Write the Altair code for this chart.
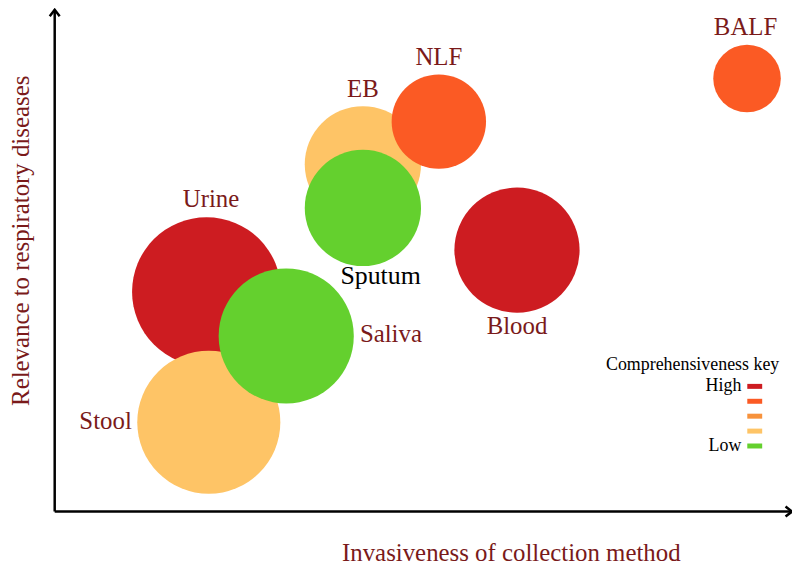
import altair as alt
import pandas as pd

# ---- data ----
names = ["Urine", "Stool", "Saliva", "EB", "Sputum", "NLF", "Blood", "BALF"]
invasiveness = [2.06, 2.09, 3.14, 4.18, 4.18, 5.21, 6.27, 9.39]
relevance = [4.38, 1.78, 3.50, 6.92, 6.05, 7.77, 5.21, 8.63]
bubble_size = [7.5, 7.2, 6.8, 5.85, 5.85, 4.75, 6.3, 3.4]
comprehensiveness = [5, 2, 1, 2, 1, 4, 5, 4]
label_x = [2.12, 0.69, 4.56, 4.18, 4.42, 5.21, 6.27, 9.37]
label_y = [6.22, 1.80, 3.54, 8.43, 4.69, 9.06, 3.69, 9.66]

key_levels = [5, 4, 3, 2, 1]
key_colors = ["#CD1C21", "#FB5A24", "#F7923C", "#FEC466", "#64D02E"]
key_labels = ["High", "", "", "", "Low"]
key_rank = [0, 1, 2, 3, 4]

x_title = "Invasiveness of collection method"
y_title = "Relevance to respiratory diseases"
key_title = "Comprehensiveness key"

SERIF = "Liberation Serif"
DARK_RED = "#7A1A1A"

bubbles_df = pd.DataFrame({
    "name": names, "invasiveness": invasiveness, "relevance": relevance,
    "bubble": bubble_size, "level": comprehensiveness,
    "label_x": label_x, "label_y": label_y, "idx": list(range(len(names))),
})
key_df = pd.DataFrame({"level": key_levels, "label": key_labels, "rank": key_rank})
axes_df = pd.DataFrame({"x": [0, 0], "y": [0, 0], "x2": [0, 10], "y2": [10, 0]})
arrows_df = pd.DataFrame({"x": [0, 10], "y": [10, 0], "dir": ["up", "right"]})

xs = alt.Scale(domain=[0, 10], nice=False, zero=False)
ys = alt.Scale(domain=[0, 10], nice=False, zero=False)
color_scale = alt.Scale(domain=key_levels, range=key_colors)

x_axis = alt.Axis(domain=False, ticks=False, labels=False, grid=False, title=x_title,
                  titleFont=SERIF, titleFontSize=25, titleFontWeight="normal",
                  titleColor=DARK_RED, titleX=459, titleY=49, titleAlign="center",
                  titleBaseline="alphabetic")
y_axis = alt.Axis(domain=False, ticks=False, labels=False, grid=False, title=y_title,
                  titleFont=SERIF, titleFontSize=25, titleFontWeight="normal",
                  titleColor=DARK_RED, titleX=-26, titleY=232, titleAngle=-90,
                  titleAlign="center", titleBaseline="alphabetic")

axes = alt.Chart(axes_df).mark_rule(color="black", strokeWidth=2.5).encode(
    x=alt.X("x:Q", scale=xs, axis=None),
    y=alt.Y("y:Q", scale=ys, axis=None),
    x2="x2:Q", y2="y2:Q",
)

arrows = alt.Chart(arrows_df).mark_point(
    filled=False, color="black", strokeWidth=2.5, size=100, opacity=1
).encode(
    x=alt.X("x:Q", scale=xs, axis=None),
    y=alt.Y("y:Q", scale=ys, axis=None),
    shape=alt.Shape("dir:N", scale=alt.Scale(
        domain=["up", "right"],
        range=["M-1,1.3L0,0L1,1.3", "M-1.3,-1L0,0L-1.3,1"]), legend=None),
)

bubbles = alt.Chart(bubbles_df).mark_circle(opacity=1).encode(
    x=alt.X("invasiveness:Q", scale=xs, axis=x_axis),
    y=alt.Y("relevance:Q", scale=ys, axis=y_axis),
    size=alt.Size("bubble:Q", scale=alt.Scale(type="pow", exponent=2, domain=[0, 10],
                                               range=[0, 40000]), legend=None),
    color=alt.Color("level:O", scale=color_scale, legend=None),
    order=alt.Order("idx:Q"),
)

labels = alt.Chart(bubbles_df).mark_text(
    font=SERIF, align="center", baseline="middle"
).encode(
    x=alt.X("label_x:Q", scale=xs, axis=None),
    y=alt.Y("label_y:Q", scale=ys, axis=None),
    text="name:N",
    color=alt.condition(alt.datum.name == "Sputum", alt.value("black"), alt.value(DARK_RED)),
    size=alt.condition(alt.datum.name == "Sputum", alt.value(26), alt.value(25)),
)

key_y = alt.Scale(domain=[0, 4], range=[379, 439])
key_swatches = alt.Chart(key_df).mark_rule(strokeWidth=5).encode(
    y=alt.Y("rank:Q", scale=key_y, axis=None),
    x=alt.value(697), x2=alt.value(712),
    color=alt.Color("level:O", scale=color_scale, legend=None),
)
key_text = alt.Chart(key_df).mark_text(
    font=SERIF, fontSize=18, align="right", baseline="middle", color="black"
).encode(
    y=alt.Y("rank:Q", scale=key_y, axis=None),
    x=alt.value(691),
    text="label:N",
)
key_head = alt.Chart(pd.DataFrame({"t": [key_title]})).mark_text(
    font=SERIF, fontSize=18, align="center", baseline="middle", color="black"
).encode(text="t:N", x=alt.value(642), y=alt.value(358))

chart = alt.layer(axes, bubbles, labels, arrows, key_swatches, key_text, key_head).resolve_scale(
    x="independent", y="independent"
).properties(
    width=742, height=505,
    autosize=alt.AutoSizeParams(type="none"),
    padding={"left": 47, "top": 0, "right": 0, "bottom": 55},
    background="white",
).configure_view(stroke=None)

chart.save("out.html", embed_options={"renderer": "svg", "actions": False})
